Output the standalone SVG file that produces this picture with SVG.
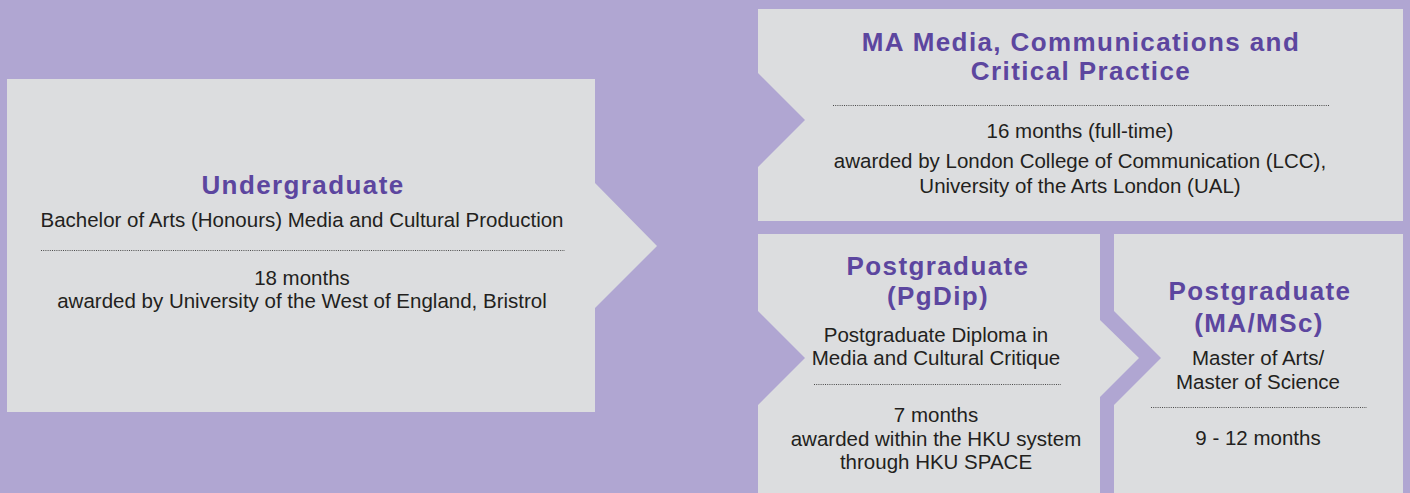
<svg xmlns="http://www.w3.org/2000/svg" width="1410" height="493" viewBox="0 0 1410 493">
<style>
.box{fill:#DCDDDF}
.title{font-family:"Liberation Sans",Arial,sans-serif;font-weight:bold;font-size:26px;letter-spacing:1.4px;fill:#5C469F;text-anchor:middle}
.body{font-family:"Liberation Sans",Arial,sans-serif;font-size:20.5px;fill:#231F20;text-anchor:middle}
.dot{stroke:#4a4a4a;stroke-width:1;stroke-dasharray:1 1.2;fill:none}
</style>
<rect x="0" y="0" width="1410" height="493" fill="#B0A6D2"/>
<g id="undergraduate">
<polygon class="box" points="7,79 595,79 595,183 657,246 595,308 595,412 7,412"/>
<text class="title" x="303" y="194">Undergraduate</text>
<text class="body" x="302" y="227">Bachelor of Arts (Honours) Media and Cultural Production</text>
<line class="dot" x1="41" y1="250.5" x2="565" y2="250.5"/>
<text class="body" x="302" y="285">18 months</text>
<text class="body" x="302" y="308">awarded by University of the West of England, Bristrol</text>
</g>
<g id="ma-media">
<polygon class="box" points="758,9 1403,9 1403,221 758,221 758,167 805,120 758,73"/>
<text class="title"><tspan x="1081" y="51">MA Media, Communications and</tspan><tspan x="1081" y="80">Critical Practice</tspan></text>
<line class="dot" x1="833" y1="105.5" x2="1330" y2="105.5"/>
<text class="body" x="1080" y="138">16 months (full-time)</text>
<text class="body"><tspan x="1080" y="168">awarded by London College of Communication (LCC),</tspan><tspan x="1080" y="193">University of the Arts London (UAL)</tspan></text>
</g>
<g id="pgdip">
<polygon class="box" points="758,234 1100,234 1100,320 1139,358 1100,397 1100,493 758,493 758,405 805,358 758,311"/>
<text class="title"><tspan x="938" y="275">Postgraduate</tspan><tspan x="938" y="305">(PgDip)</tspan></text>
<text class="body"><tspan x="936" y="342">Postgraduate Diploma in</tspan><tspan x="936" y="365">Media and Cultural Critique</tspan></text>
<line class="dot" x1="814" y1="384.5" x2="1061" y2="384.5"/>
<text class="body"><tspan x="936" y="422">7 months</tspan><tspan x="936" y="446">awarded within the HKU system</tspan><tspan x="936" y="469">through HKU SPACE</tspan></text>
</g>
<g id="ma-msc">
<polygon class="box" points="1114,234 1403,234 1403,493 1114,493 1114,405 1161,358 1114,311"/>
<text class="title"><tspan x="1260" y="300">Postgraduate</tspan><tspan x="1259" y="332">(MA/MSc)</tspan></text>
<text class="body"><tspan x="1258" y="365">Master of Arts/</tspan><tspan x="1258" y="389">Master of Science</tspan></text>
<line class="dot" x1="1151" y1="407.5" x2="1367" y2="407.5"/>
<text class="body" x="1258" y="445">9 - 12 months</text>
</g>
<g id="connectors"></g>
</svg>
